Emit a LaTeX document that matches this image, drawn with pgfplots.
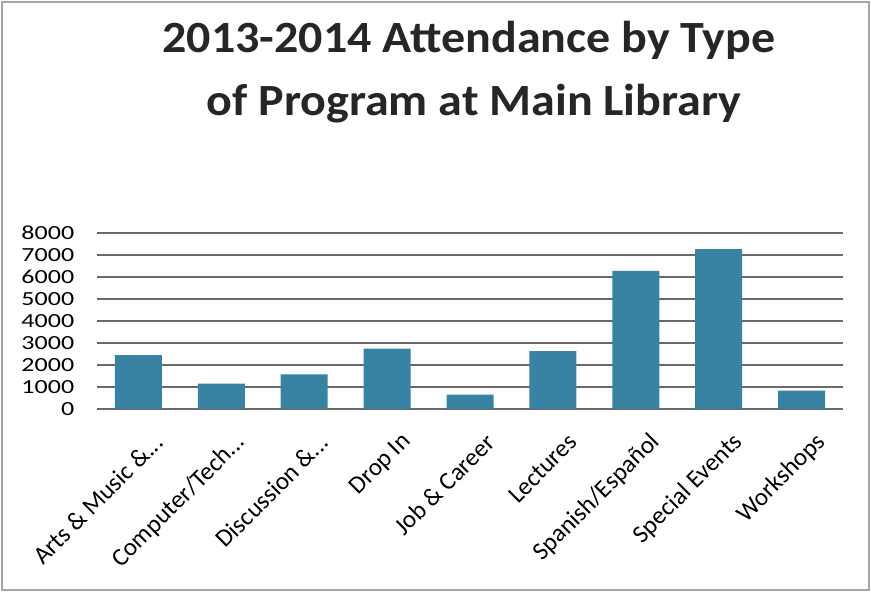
\documentclass[border=0pt]{standalone}
\usepackage{pgfplots}
\pgfplotsset{compat=1.18}
\usepackage{fontspec}
\setmainfont{Carlito}
\definecolor{barc}{RGB}{56,131,164}
\definecolor{gridc}{RGB}{105,105,105}
\begin{document}
\begin{tikzpicture}
\path[use as bounding box] (0pt,0pt) rectangle (871pt,592pt);
\draw[gray!70, line width=1.5pt] (2pt,2pt) rectangle (869pt,590pt);
\node[anchor=base, yscale=0.93, font=\fontsize{48}{54}\selectfont\bfseries, text=black!85] at (469pt,539pt) {2013-2014 Attendance by Type};
\node[anchor=base, yscale=0.93, font=\fontsize{48}{54}\selectfont\bfseries, text=black!85] at (474pt,476pt) {of Program at Main Library};
\begin{axis}[
  at={(97pt,183pt)}, anchor=south west,
  scale only axis, width=746pt, height=176pt,
  xmin=-0.5, xmax=8.5, ymin=0, ymax=8000,
  axis line style={draw=none},
  major tick length=0pt,
  ytick={0,1000,2000,3000,4000,5000,6000,7000,8000},
  ymajorgrids, grid style={gridc, line width=1.2pt},
  xtick={0,1,2,3,4,5,6,7,8},
  xticklabels={{Arts \& Music \&{.}{.}{.}},{Computer/Tech{.}{.}{.}},{Discussion \&{.}{.}{.}},{Drop In},{Job \& Career},{Lectures},{Spanish/Español},{Special Events},{Workshops}},
  xticklabel style={rotate=45, anchor=east, font=\fontsize{25}{27}\selectfont, xshift=-3pt, yshift=-35pt},
  yticklabel style={font=\fontsize{20}{22}\selectfont, xscale=1.3, anchor=east, xshift=-14pt},
  /pgf/number format/1000 sep={},
  /pgf/number format/assume math mode=true,
  clip=false,
]
\addplot[ybar, bar width=47pt, fill=barc, draw=none] coordinates {
(0,2450) (1,1150) (2,1570) (3,2750) (4,650) (5,2630) (6,6280) (7,7270) (8,835)
};
\end{axis}
\end{tikzpicture}
\end{document}
